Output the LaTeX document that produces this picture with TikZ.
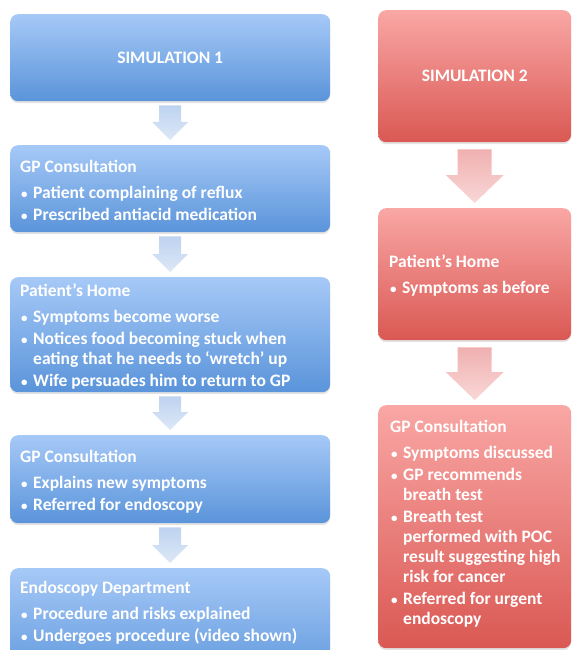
\documentclass[tikz,border=0pt]{standalone}
\usepackage{fontspec}
\setmainfont{Carlito}
\usetikzlibrary{calc,shadows}
\definecolor{bluetop}{HTML}{A6C9F7}
\definecolor{bluebot}{HTML}{5A94DA}
\definecolor{redtop}{HTML}{F9A7A5}
\definecolor{redbot}{HTML}{DA5853}
\definecolor{bluearrtop}{HTML}{BED3F0}
\definecolor{bluearrbot}{HTML}{DDE8F7}
\definecolor{redarrtop}{HTML}{F0B0B0}
\definecolor{redarrbot}{HTML}{F9D7D7}
\newcommand\bitem[1]{\par\vspace{2pt}\hangindent=13pt\hangafter=1\noindent\makebox[13pt][l]{\hspace{1pt}{\fontsize{13}{13}\selectfont •}}#1}
\newcommand\flowarrow[8]{%
  \path[#1] let \p1=(#2.south), \p2=(#3.north) in
    (\x1-#6pt,\y1-#4pt) -- (\x1+#6pt,\y1-#4pt) -- (\x1+#6pt,\y2+#5pt+#8pt)
    -- (\x1+#7pt,\y2+#5pt+#8pt) -- (\x1,\y2+#5pt) -- (\x1-#7pt,\y2+#5pt+#8pt)
    -- (\x1-#6pt,\y2+#5pt+#8pt) -- cycle;}
\tikzset{
  box/.style={rectangle, rounded corners=8pt, inner sep=0pt, anchor=north west,
    drop shadow={opacity=0.22, shadow xshift=0pt, shadow yshift=-2pt}},
  bluebox/.style={box, top color=bluetop, bottom color=bluebot},
  redbox/.style={box, top color=redtop, bottom color=redbot},
  txt/.style={anchor=base west, inner sep=0pt, text=white,
    font=\bfseries\fontsize{17.5}{20}\selectfont},
  ttl/.style={inner sep=0pt, text=white, font=\bfseries\fontsize{17.5}{20}\selectfont},
  bluearr/.style={top color=bluearrtop, bottom color=bluearrbot, draw=none},
  redarr/.style={top color=redarrtop, bottom color=redarrbot, draw=none},
}
\begin{document}
\begin{tikzpicture}[x=1pt, y=-1pt]
\useasboundingbox (0,0) rectangle (572,650);
\clip (0,0) rectangle (572,650);
% left column
\node[bluebox, minimum width=320pt, minimum height=87pt] (b1) at (10,14) {};
\node[bluebox, minimum width=320pt, minimum height=87pt] (b2) at (10,145) {};
\node[bluebox, minimum width=320pt, minimum height=115pt] (b3) at (10,277) {};
\node[bluebox, minimum width=320pt, minimum height=88pt] (b4) at (10,435) {};
\node[bluebox, minimum width=320pt, minimum height=120pt] (b5) at (10,568) {};
% right column
\node[redbox, minimum width=193pt, minimum height=132pt] (r1) at (378,10) {};
\node[redbox, minimum width=193pt, minimum height=132pt] (r2) at (378,208) {};
\node[redbox, minimum width=193pt, minimum height=243pt] (r3) at (378,405) {};
% arrows
\flowarrow{bluearr}{b1}{b2}{4}{5}{11}{18}{18}
\flowarrow{bluearr}{b2}{b3}{4}{5}{11}{18}{18}
\flowarrow{bluearr}{b3}{b4}{4}{5}{11}{18}{18}
\flowarrow{bluearr}{b4}{b5}{4}{5}{11}{18}{18}
\flowarrow{redarr}{r1}{r2}{7}{5}{17}{29}{28}
\flowarrow{redarr}{r2}{r3}{7}{5}{17}{29}{28}
% texts
\node[ttl] (t1) at (b1.center) {SIMULATION 1};
\node[ttl] (s1) at (r1.center) {SIMULATION 2};
\node[txt] (t2) at ($(b2.north west)+(10,27)$) {\parbox[t]{315pt}{\raggedright
  GP Consultation\par\vspace{4pt}
  \bitem{Patient complaining of reflux}
  \bitem{Prescribed antiacid medication}}};
\node[txt] (t3) at ($(b3.north west)+(10,19)$) {\parbox[t]{315pt}{\raggedright
  Patient’s Home\par\vspace{4pt}
  \bitem{Symptoms become worse}
  \bitem{Notices food becoming stuck when\newline eating that he needs to ‘wretch’ up}
  \bitem{Wife persuades him to return to GP}}};
\node[txt] (t4) at ($(b4.north west)+(10,27)$) {\parbox[t]{315pt}{\raggedright
  GP Consultation\par\vspace{4pt}
  \bitem{Explains new symptoms}
  \bitem{Referred for endoscopy}}};
\node[txt] (t5) at ($(b5.north west)+(10,25)$) {\parbox[t]{315pt}{\raggedright
  Endoscopy Department\par\vspace{4pt}
  \bitem{Procedure and risks explained}
  \bitem{Undergoes procedure (video shown)}}};
\node[txt] (s2) at ($(r2.north west)+(11,59)$) {\parbox[t]{180pt}{\raggedright
  Patient’s Home\par\vspace{4pt}
  \bitem{Symptoms as before}}};
\node[txt] (s3) at ($(r3.north west)+(12,27)$) {\parbox[t]{180pt}{\raggedright
  GP Consultation\par\vspace{4pt}
  \bitem{Symptoms discussed}
  \bitem{GP recommends\newline breath test}
  \bitem{Breath test\newline performed with POC\newline result suggesting high\newline risk for cancer}
  \bitem{Referred for urgent\newline endoscopy}}};
\end{tikzpicture}
\end{document}
